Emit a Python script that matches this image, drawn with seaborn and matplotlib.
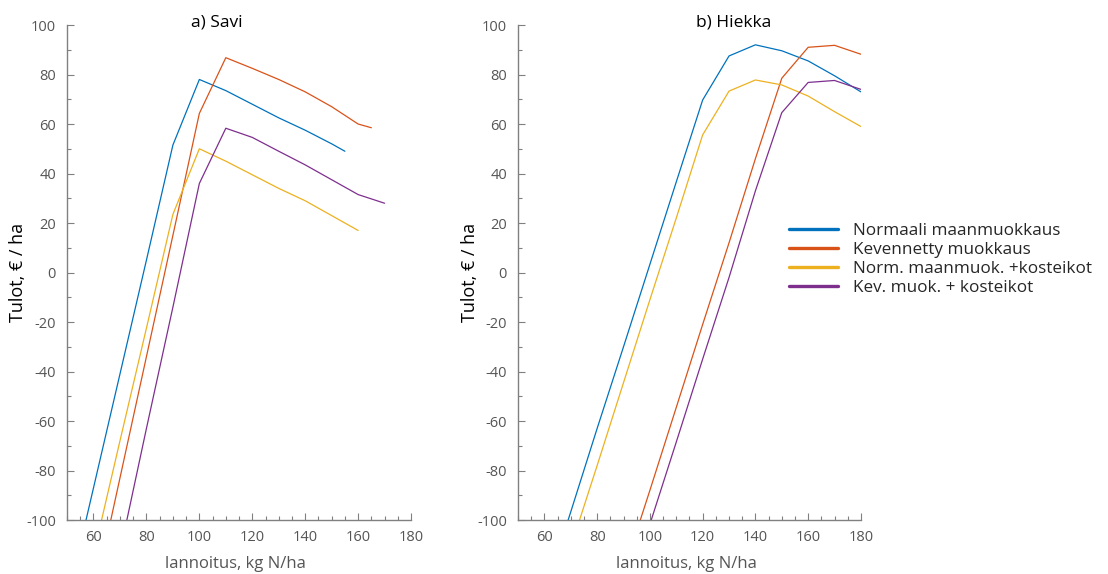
import matplotlib
matplotlib.use("Agg")
import matplotlib.pyplot as plt
from matplotlib.lines import Line2D
from matplotlib.ticker import MultipleLocator
import numpy as np
import pandas as pd
import seaborn as sns

# Series names and colours
series = ["Normaali maanmuokkaus", "Kevennetty muokkaus",
          "Norm. maanmuok. +kosteikot", "Kev. muok. + kosteikot"]
colors = ["#0072BD", "#D95319", "#EDB120", "#7E2F8E"]

# a) Savi: fertilisation (kg N/ha) and income (EUR/ha)
savi_norm_x = [50, 60, 70, 80, 90, 100, 110, 120, 130, 140, 150, 155]
savi_norm_y = [-133, -87, -41, 5, 51.5, 78, 73.5, 68, 62.5, 57.5, 52, 49]
savi_kev_x = [60, 70, 80, 90, 100, 110, 120, 130, 140, 150, 160, 165]
savi_kev_y = [-132, -83, -34, 15, 64.3, 86.8, 82.5, 78, 73, 67, 60, 58.5]
savi_normk_x = [60, 70, 80, 90, 100, 110, 120, 130, 140, 150, 160]
savi_normk_y = [-114, -68, -22.5, 23.5, 50, 45, 39.5, 34, 29, 23, 17]
savi_kevk_x = [70, 80, 90, 100, 110, 120, 130, 140, 150, 160, 170]
savi_kevk_y = [-113, -63, -14, 36, 58.3, 54.6, 49, 43.5, 37.5, 31.5, 28]

# b) Hiekka
hiekka_norm_x = [60, 70, 80, 90, 100, 110, 120, 130, 140, 150, 160, 170, 180]
hiekka_norm_y = [-130, -96.7, -63, -30, 3.3, 36.6, 69.7, 87.5, 92, 89.6, 85.5, 79.5, 73]
hiekka_kev_x = [90, 100, 110, 120, 130, 140, 150, 160, 170, 180]
hiekka_kev_y = [-121, -88, -54.5, -21, 12, 46, 78.5, 91, 91.8, 88.2]
hiekka_normk_x = [70, 80, 90, 100, 110, 120, 130, 140, 150, 160, 170, 180]
hiekka_normk_y = [-111, -78, -44.5, -11, 22, 55.6, 73.3, 77.8, 75.8, 71.3, 65, 59]
hiekka_kevk_x = [90, 100, 110, 120, 130, 140, 150, 160, 170, 180]
hiekka_kevk_y = [-135, -101.7, -68.5, -35, -2, 33, 64.6, 76.8, 77.6, 74]

panel_titles = ["a) Savi", "b) Hiekka"]
xticks = [60, 80, 100, 120, 140, 160, 180]
yticks = [-100, -80, -60, -40, -20, 0, 20, 40, 60, 80, 100]


def frame(xs, ys):
    parts = []
    for name, x, y in zip(series, xs, ys):
        parts.append(pd.DataFrame({"N": x, "tulot": y, "sarja": name}))
    return pd.concat(parts, ignore_index=True)


savi = frame([savi_norm_x, savi_kev_x, savi_normk_x, savi_kevk_x],
             [savi_norm_y, savi_kev_y, savi_normk_y, savi_kevk_y])
hiekka = frame([hiekka_norm_x, hiekka_kev_x, hiekka_normk_x, hiekka_kevk_x],
               [hiekka_norm_y, hiekka_kev_y, hiekka_normk_y, hiekka_kevk_y])

sns.set_theme(style="white")
plt.rcParams["font.family"] = ["Open Sans", "DejaVu Sans"]
plt.rcParams["axes.unicode_minus"] = False

grey = "#808080"
label_grey = "#555555"

fig = plt.figure(figsize=(11.08, 5.74), dpi=100)
ax1 = fig.add_axes([0.0605, 0.094, 0.3105, 0.8624])
ax2 = fig.add_axes([0.4675, 0.094, 0.3095, 0.8624])

title_x = [0.436, 0.630]
for ax, data, title, tx in zip([ax1, ax2], [savi, hiekka], panel_titles, title_x):
    sns.lineplot(data=data, x="N", y="tulot", hue="sarja", hue_order=series,
                 palette=colors, sort=False, estimator=None, linewidth=0.9,
                 legend=False, ax=ax)
    ax.set_xlim(50, 180)
    ax.set_ylim(-100, 100)
    ax.set_xticks(xticks)
    ax.set_yticks(yticks)
    ax.xaxis.set_minor_locator(MultipleLocator(5))
    ax.yaxis.set_minor_locator(MultipleLocator(10))
    ax.tick_params(which="both", direction="in", color=grey, width=0.8,
                   labelcolor=label_grey, labelsize=10.5)
    ax.tick_params(which="major", length=5)
    ax.tick_params(which="minor", length=3)
    ax.tick_params(axis="x", which="both", bottom=True, pad=7)
    ax.tick_params(axis="y", which="both", left=True, pad=8)
    for side in ["top", "right"]:
        ax.spines[side].set_visible(False)
    for side in ["left", "bottom"]:
        ax.spines[side].set_color(grey)
        ax.spines[side].set_linewidth(1.0)
    ax.set_xlabel("lannoitus, kg N/ha", fontsize=12, color=label_grey)
    ax.set_ylabel("Tulot, € / ha", fontsize=13, color="black")
    ax.xaxis.set_label_coords(0.49, -0.072)
    ax.yaxis.set_label_coords(-0.115, 0.5)
    ax.text(tx, 0.997, title, transform=ax.transAxes, ha="center",
            va="baseline", fontsize=12.5, color="black")
    ax.set_facecolor("white")

handles = [Line2D([0], [0], color=c, lw=2.4) for c in colors]
fig.legend(handles, series, loc="upper left", bbox_to_anchor=(0.712, 0.611),
           frameon=False, fontsize=12.3, handlelength=2.85, handletextpad=0.9,
           labelspacing=0.17, borderpad=0, borderaxespad=0)

fig.savefig("out.png", dpi=100, facecolor="white")
